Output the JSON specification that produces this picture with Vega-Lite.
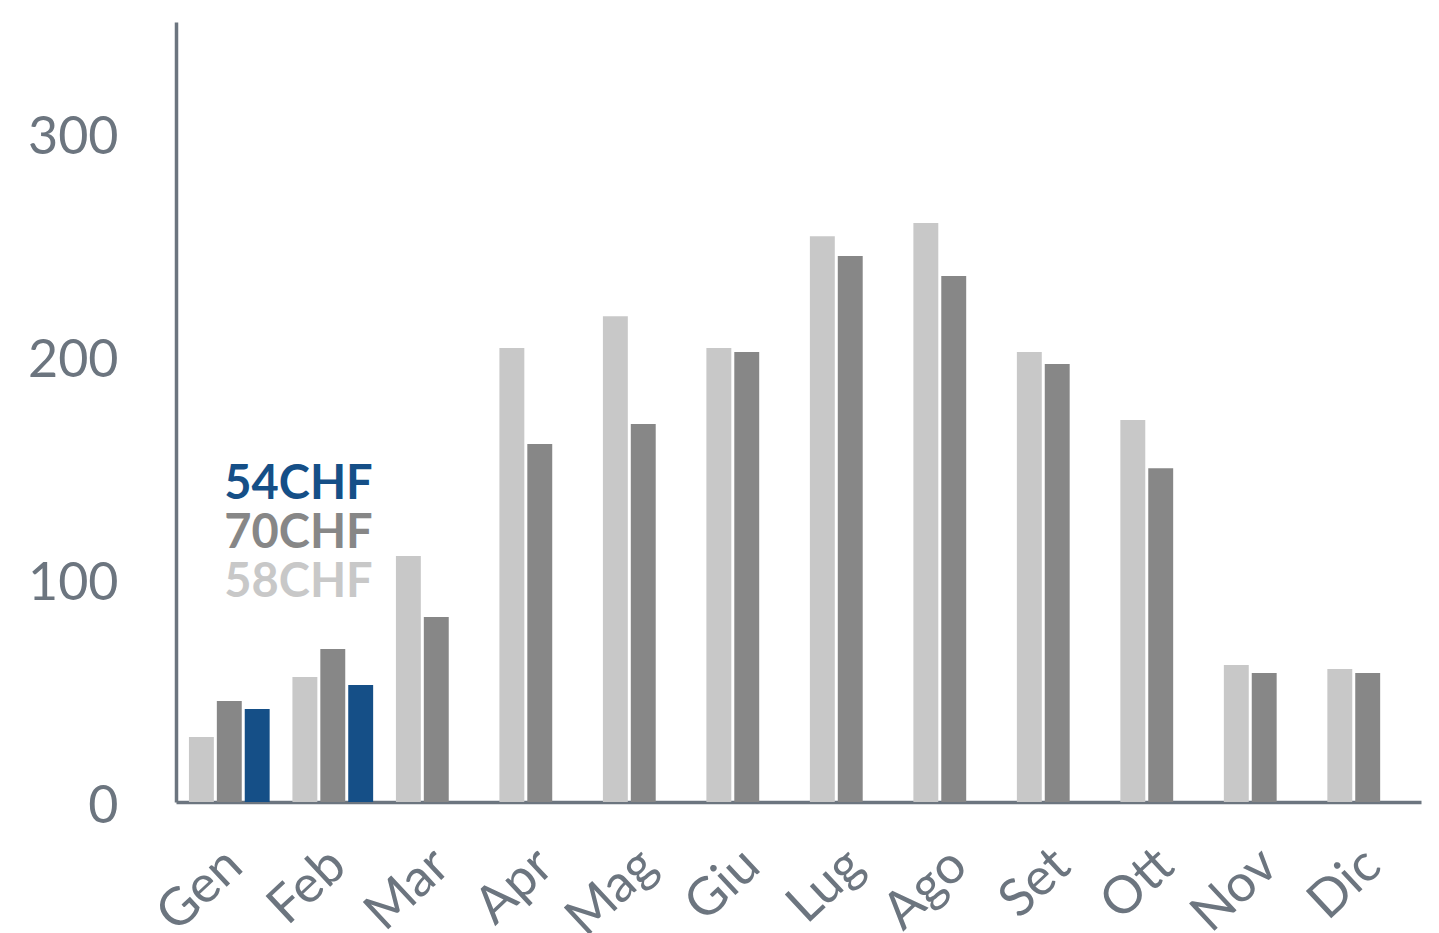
{
  "$schema": "https://vega.github.io/schema/vega-lite/v6.json",
  "width": 1245,
  "height": 780,
  "autosize": {"type": "none"},
  "padding": {"left": 176, "top": 22, "right": 18, "bottom": 131},
  "config": {"view": {"stroke": null}, "font": "Lato"},
  "datasets": {
    "bars": [
      {"m": "Gen", "s": "a", "v": 29.2}, {"m": "Gen", "s": "b", "v": 45.3}, {"m": "Gen", "s": "c", "v": 41.7},
      {"m": "Feb", "s": "a", "v": 56.1}, {"m": "Feb", "s": "b", "v": 68.6}, {"m": "Feb", "s": "c", "v": 52.5},
      {"m": "Mar", "s": "a", "v": 110.4}, {"m": "Mar", "s": "b", "v": 83},
      {"m": "Apr", "s": "a", "v": 203.7}, {"m": "Apr", "s": "b", "v": 160.6},
      {"m": "Mag", "s": "a", "v": 218}, {"m": "Mag", "s": "b", "v": 169.6},
      {"m": "Giu", "s": "a", "v": 203.7}, {"m": "Giu", "s": "b", "v": 201.9},
      {"m": "Lug", "s": "a", "v": 253.9}, {"m": "Lug", "s": "b", "v": 245},
      {"m": "Ago", "s": "a", "v": 259.8}, {"m": "Ago", "s": "b", "v": 236},
      {"m": "Set", "s": "a", "v": 201.9}, {"m": "Set", "s": "b", "v": 196.5},
      {"m": "Ott", "s": "a", "v": 171.4}, {"m": "Ott", "s": "b", "v": 149.8},
      {"m": "Nov", "s": "a", "v": 61.5}, {"m": "Nov", "s": "b", "v": 57.9},
      {"m": "Dic", "s": "a", "v": 59.7}, {"m": "Dic", "s": "b", "v": 57.9}
    ],
    "labels": [
      {"m": "Gen", "s": "c", "v": 135.9, "t": "54CHF"},
      {"m": "Gen", "s": "b", "v": 113.9, "t": "70CHF"},
      {"m": "Gen", "s": "a", "v": 91.9, "t": "58CHF"}
    ]
  },
  "encoding": {
    "x": {
      "field": "m", "type": "nominal", "sort": null,
      "scale": {"domain": ["Gen","Feb","Mar","Apr","Mag","Giu","Lug","Ago","Set","Ott","Nov","Dic"], "paddingInner": 0.22, "paddingOuter": 0.125},
      "axis": {"title": null, "labelAngle": -43, "labelFont": "Lato", "labelFontSize": 52, "labelColor": "#6c757f", "domainColor": "#6c757f", "domainWidth": 3.5, "ticks": false, "labelPadding": 37, "labelOffset": -12}
    }
  },
  "layer": [
    {
      "data": {"name": "bars"},
      "mark": {"type": "bar"},
      "encoding": {
        "xOffset": {"field": "s", "type": "nominal", "scale": {"domain": ["a","b","c"], "paddingInner": 0.107, "paddingOuter": 0}},
        "y": {
          "field": "v", "type": "quantitative",
          "scale": {"domain": [0, 350], "nice": false},
          "axis": {"title": null, "values": [0, 100, 200, 300], "grid": false, "ticks": false, "labelFont": "Lato", "labelFontSize": 52, "labelColor": "#6c757f", "domainColor": "#6c757f", "domainWidth": 3.5, "labelPadding": 58, "labelOffset": 4}
        },
        "color": {"field": "s", "type": "nominal", "scale": {"domain": ["a","b","c"], "range": ["#c8c8c8", "#878787", "#154f87"]}, "legend": null}
      }
    },
    {
      "data": {"name": "labels"},
      "mark": {"type": "text", "align": "left", "baseline": "alphabetic", "font": "Lato", "fontWeight": "bold", "fontSize": 47, "dx": -5},
      "encoding": {
        "y": {"field": "v", "type": "quantitative"},
        "text": {"field": "t"},
        "color": {"field": "s", "type": "nominal", "legend": null}
      }
    }
  ]
}
